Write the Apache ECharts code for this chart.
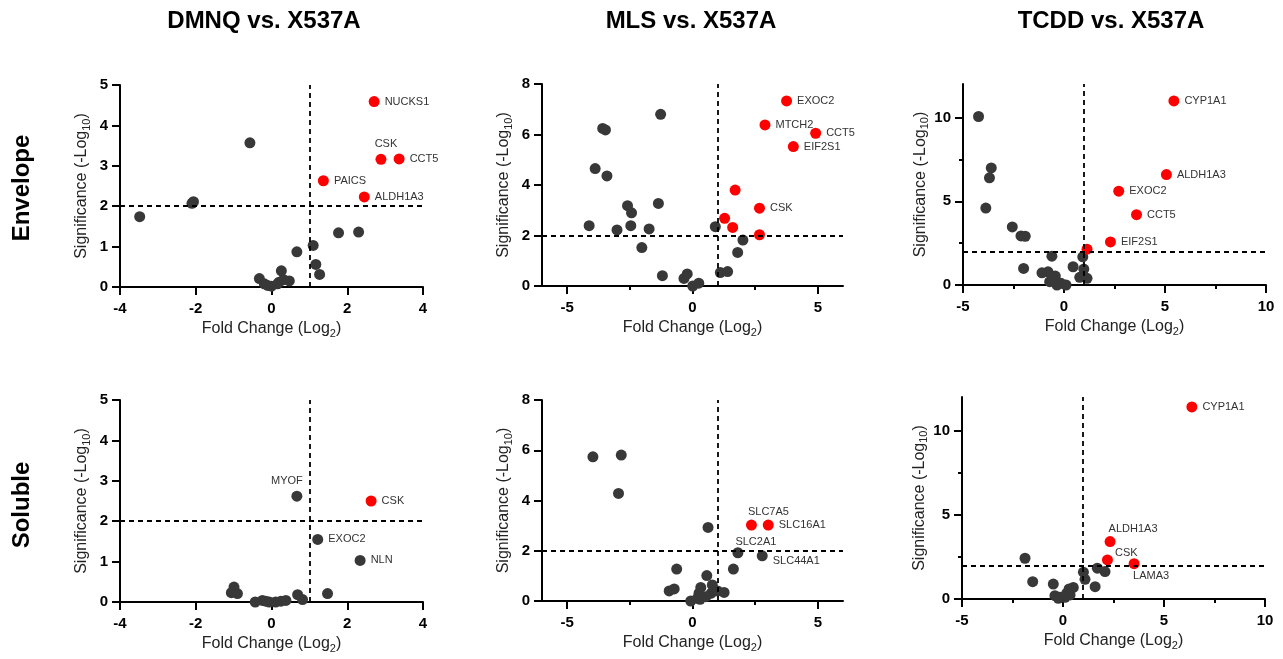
<!DOCTYPE html>
<html>
<head>
<meta charset="utf-8">
<title>Volcano plots</title>
<script src="https://cdn.jsdelivr.net/npm/echarts@6/dist/echarts.min.js"></script>
<style>
html, body { margin: 0; padding: 0; background: #fff; }
#chart { width: 1283px; height: 659px; }
</style>
</head>
<body>
<div id="chart"></div>
<script>
// points are [fold change (log2), significance (-log10), label]
const dmnqEnvGray = [
  [-0.57, 3.57], [-2.06, 2.11], [-2.1, 2.07], [-3.48, 1.74], [1.77, 1.34], [2.30, 1.36],
  [1.10, 1.03], [0.67, 0.87], [1.17, 0.56], [1.27, 0.31], [0.26, 0.40], [-0.32, 0.21],
  [-0.19, 0.08], [0.0, 0.02], [0.16, 0.08], [0.47, 0.15], [0.32, 0.18], [0.2, 0.12], [-0.1, 0.04]
];
const dmnqEnvRed = [
  [2.71, 4.59, 'NUCKS1'], [2.89, 3.16, 'CSK'], [3.37, 3.17, 'CCT5'],
  [1.37, 2.63, 'PAICS'], [2.45, 2.23, 'ALDH1A3']
];
const mlsEnvGray = [
  [-1.27, 6.80], [-3.58, 6.24], [-3.47, 6.18], [-3.88, 4.65], [-3.41, 4.36], [-2.59, 3.18],
  [-2.43, 2.90], [-1.36, 3.27], [-4.12, 2.39], [-3.01, 2.22], [-2.46, 2.39], [-1.73, 2.26],
  [-2.02, 1.52], [0.91, 2.35], [2.01, 1.82], [1.80, 1.33], [-1.20, 0.41], [-0.34, 0.30],
  [-0.21, 0.48], [0.01, 0.0], [0.25, 0.11], [1.11, 0.53], [1.40, 0.57]
];
const mlsEnvRed = [
  [3.75, 7.33, 'EXOC2'], [2.89, 6.38, 'MTCH2'], [4.91, 6.05, 'CCT5'], [4.02, 5.52, 'EIF2S1'],
  [1.70, 3.80], [2.67, 3.08, 'CSK'], [1.28, 2.68], [1.60, 2.32], [2.67, 2.03]
];
const tcddEnvGray = [
  [-4.23, 10.06], [-3.60, 6.99], [-3.69, 6.40], [-3.87, 4.59], [-2.56, 3.47], [-2.13, 2.93],
  [-1.92, 2.91], [-2.00, 0.99], [-0.60, 1.72], [0.93, 1.68], [0.45, 1.09], [0.98, 0.95],
  [-1.09, 0.73], [-0.79, 0.79], [-0.43, 0.53], [-0.71, 0.20], [-0.35, 0.0], [-0.15, 0.10],
  [0.10, 0.0], [0.78, 0.46], [1.14, 0.40], [-0.55, 0.26]
];
const tcddEnvRed = [
  [5.44, 10.99, 'CYP1A1'], [5.07, 6.59, 'ALDH1A3'], [2.71, 5.60, 'EXOC2'],
  [3.59, 4.20, 'CCT5'], [2.30, 2.57, 'EIF2S1'], [1.14, 2.14]
];
const dmnqSolGray = [
  [0.67, 2.62, 'MYOF'], [1.22, 1.55, 'EXOC2'], [2.34, 1.03, 'NLN'], [1.48, 0.21],
  [-0.99, 0.37], [-1.06, 0.23], [-0.90, 0.21], [0.69, 0.18], [0.82, 0.06], [-0.43, 0.0],
  [-0.24, 0.04], [-0.06, 0.0], [0.11, 0.0], [0.25, 0.02], [0.38, 0.04], [-0.15, 0.02]
];
const dmnqSolRed = [
  [2.63, 2.50, 'CSK']
];
const mlsSolGray = [
  [-3.97, 5.74], [-2.84, 5.81], [-2.95, 4.28], [0.62, 2.93], [1.81, 1.92, 'SLC2A1'],
  [2.78, 1.80, 'SLC44A1'], [1.63, 1.27], [-0.63, 1.27], [0.57, 1.01], [-0.93, 0.40],
  [-0.73, 0.48], [-0.07, 0.0], [0.20, 0.11], [0.33, 0.54], [0.26, 0.31], [0.79, 0.64],
  [0.75, 0.31], [1.0, 0.40], [1.26, 0.34], [0.53, 0.17], [0.30, 0.07]
];
const mlsSolRed = [
  [2.35, 3.02, 'SLC7A5'], [3.02, 3.02, 'SLC16A1']
];
const tcddSolGray = [
  [-1.88, 2.42], [-1.50, 1.03], [-0.48, 0.89], [1.01, 1.59], [1.09, 1.17], [1.70, 1.83],
  [2.08, 1.63], [1.59, 0.73], [0.51, 0.69], [0.30, 0.60], [-0.40, 0.20], [-0.15, 0.10],
  [0.10, 0.10], [0.35, 0.24], [0.18, 0.34], [-0.23, 0.04]
];
const tcddSolRed = [
  [6.38, 11.41, 'CYP1A1'], [2.33, 3.41, 'ALDH1A3'], [2.20, 2.32, 'CSK'], [3.52, 2.10, 'LAMA3']
];

const colTitles = ['DMNQ vs. X537A', 'MLS vs. X537A', 'TCDD vs. X537A'];
const rowTitles = ['Envelope', 'Soluble'];

const dmnqXTicks = [-4, -2, 0, 2, 4];
const dmnqYTicks = [0, 1, 2, 3, 4, 5];
const mlsXTicks = [-5, 0, 5];
const mlsXMinor = [-2.5, 2.5];
const mlsYTicks = [0, 2, 4, 6, 8];
const tcddXTicks = [-5, 0, 5, 10];
const tcddXMinor = [-2.5, 2.5, 7.5];
const tcddYTicks = [0, 5, 10];
const tcddYMinor = [2.5, 7.5];

const foldCut = 1;   // log2 fold change threshold
const sigCut = 2;    // -log10 p threshold

const FONT = '"Liberation Sans", Arial, sans-serif';

// where a gene label sits if not simply on the right
const labelSpots = {
  '0:CSK': { position: 'top', distance: 4, offset: [5, 0] },
  '3:MYOF': { position: 'top', distance: 4, offset: [-10, 0] },
  '4:SLC7A5': { position: 'top', distance: 2, offset: [17, 0] },
  '4:SLC2A1': { position: 'top', distance: 0, offset: [18, 0] },
  '4:SLC44A1': { position: 'right', distance: 5, offset: [0, 5] },
  '5:ALDH1A3': { position: 'top', distance: 2, offset: [23, 0] },
  '5:CSK': { position: 'right', distance: 2, offset: [0, -7] },
  '5:LAMA3': { position: 'bottom', distance: 1, offset: [17, 0] }
};

const panels = [
  { gray: dmnqEnvGray, red: dmnqEnvRed, xr: [-4, 4], yr: [0, 5], xt: dmnqXTicks, xm: [], yt: dmnqYTicks, ym: [],
    grid: { left: 120, top: 85, width: 303, height: 202 } },
  { gray: mlsEnvGray, red: mlsEnvRed, xr: [-6, 6], yr: [0, 8], xt: mlsXTicks, xm: mlsXMinor, yt: mlsYTicks, ym: [],
    grid: { left: 542, top: 84, width: 301, height: 202 } },
  { gray: tcddEnvGray, red: tcddEnvRed, xr: [-5, 10], yr: [0, 12], xt: tcddXTicks, xm: tcddXMinor, yt: tcddYTicks, ym: tcddYMinor,
    grid: { left: 963, top: 84, width: 303, height: 201 } },
  { gray: dmnqSolGray, red: dmnqSolRed, xr: [-4, 4], yr: [0, 5], xt: dmnqXTicks, xm: [], yt: dmnqYTicks, ym: [],
    grid: { left: 120, top: 400, width: 303, height: 202 } },
  { gray: mlsSolGray, red: mlsSolRed, xr: [-6, 6], yr: [0, 8], xt: mlsXTicks, xm: mlsXMinor, yt: mlsYTicks, ym: [],
    grid: { left: 542, top: 400, width: 301, height: 201 } },
  { gray: tcddSolGray, red: tcddSolRed, xr: [-5, 10], yr: [0, 12], xt: tcddXTicks, xm: tcddXMinor, yt: tcddYTicks, ym: tcddYMinor,
    grid: { left: 962, top: 397, width: 303, height: 202 } }
];

function toItems(points, p) {
  return points.map(function (pt) {
    const item = { value: [pt[0], pt[1]], name: pt[2] || '' };
    if (pt[2]) {
      item.label = Object.assign({
        show: true, position: 'right', distance: 5, formatter: '{b}',
        color: '#333', fontSize: 11, fontFamily: FONT
      }, labelSpots[p + ':' + pt[2]] || {});
    }
    return item;
  });
}

const nameStyle = {
  fontFamily: FONT, fontSize: 16, color: '#222', lineHeight: 20,
  rich: { s: { fontFamily: FONT, fontSize: 11, color: '#222', lineHeight: 11, verticalAlign: 'bottom' } }
};
const tickLabel = { fontFamily: FONT, fontSize: 15, fontWeight: 'bold', color: '#000' };
const lineStyle = { color: '#000', width: 2 };

const grids = [], xAxes = [], yAxes = [], series = [];

panels.forEach(function (p, i) {
  grids.push(Object.assign({ containLabel: false }, p.grid));

  xAxes.push({
    type: 'value', gridIndex: i, position: 'bottom', min: p.xr[0], max: p.xr[1],
    name: 'Fold Change (Log{s|2})', nameLocation: 'middle', nameGap: 32, nameTextStyle: nameStyle,
    axisLine: { onZero: false, lineStyle: lineStyle },
    axisTick: { length: 8, lineStyle: lineStyle, customValues: p.xt },
    axisLabel: Object.assign({ margin: 14, customValues: p.xt }, tickLabel),
    splitLine: { show: false }
  });
  // minor ticks only
  xAxes.push({
    type: 'value', gridIndex: i, position: 'bottom', min: p.xr[0], max: p.xr[1],
    axisLine: { show: false, onZero: false },
    axisTick: { show: p.xm.length > 0, length: 4, lineStyle: lineStyle, customValues: p.xm.length ? p.xm : [p.xr[0]] },
    axisLabel: { show: false },
    splitLine: { show: false }
  });
  yAxes.push({
    type: 'value', gridIndex: i, position: 'left', min: p.yr[0], max: p.yr[1],
    name: 'Significance (-Log{s|10})', nameLocation: 'middle', nameGap: 28, nameRotate: 90, nameTextStyle: nameStyle,
    axisLine: { onZero: false, lineStyle: lineStyle },
    axisTick: { length: 8, lineStyle: lineStyle, customValues: p.yt },
    axisLabel: Object.assign({ margin: 12, customValues: p.yt }, tickLabel),
    splitLine: { show: false }
  });
  yAxes.push({
    type: 'value', gridIndex: i, position: 'left', min: p.yr[0], max: p.yr[1],
    axisLine: { show: false, onZero: false },
    axisTick: { show: p.ym.length > 0, length: 4, lineStyle: lineStyle, customValues: p.ym.length ? p.ym : [p.yr[0]] },
    axisLabel: { show: false },
    splitLine: { show: false }
  });

  series.push({
    type: 'scatter', xAxisIndex: 2 * i, yAxisIndex: 2 * i,
    symbolSize: 11, itemStyle: { color: '#383838', opacity: 1 },
    label: { show: false },
    data: toItems(p.gray, i),
    markLine: {
      silent: true, symbol: 'none', animation: false,
      label: { show: false },
      lineStyle: { color: '#000', width: 1.8, type: [5, 4] },
      data: [{ xAxis: foldCut }, { yAxis: sigCut }]
    }
  });
  series.push({
    type: 'scatter', xAxisIndex: 2 * i, yAxisIndex: 2 * i,
    symbolSize: 11, itemStyle: { color: '#ff0000', opacity: 1 },
    label: { show: false },
    data: toItems(p.red, i)
  });
});

// column and row headings
const colX = [264, 691, 1111];
const rowY = [188, 505];
const headings = [];
colTitles.forEach(function (t, i) {
  headings.push({
    type: 'text', x: colX[i], y: 21,
    style: { text: t, font: 'bold 24px ' + FONT, fill: '#000', textAlign: 'center', textVerticalAlign: 'middle' }
  });
});
rowTitles.forEach(function (t, i) {
  headings.push({
    type: 'text', x: 22, y: rowY[i], rotation: Math.PI / 2,
    style: { text: t, font: 'bold 24px ' + FONT, fill: '#000', textAlign: 'center', textVerticalAlign: 'middle' }
  });
});

const myChart = echarts.init(document.getElementById('chart'));
myChart.setOption({
  animation: false,
  backgroundColor: '#fff',
  grid: grids,
  xAxis: xAxes,
  yAxis: yAxes,
  series: series,
  graphic: headings
});
</script>
</body>
</html>
